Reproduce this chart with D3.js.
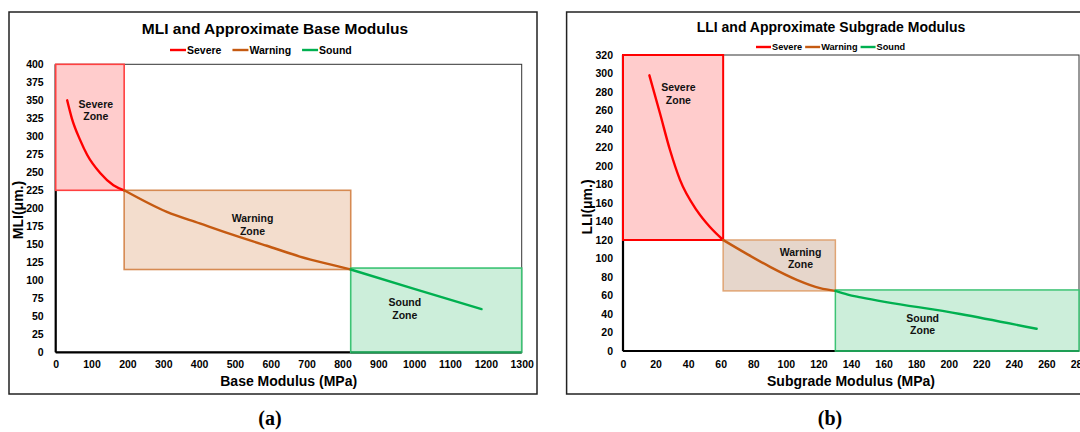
<!DOCTYPE html>
<html>
<head>
<meta charset="utf-8">
<script src="https://cdn.jsdelivr.net/npm/d3@7"></script>
<style>
  html, body { margin: 0; padding: 0; background: #fff; }
  svg { display: block; }
  text { font-family: "Liberation Sans", Arial, sans-serif; }
</style>
</head>
<body>
<svg id="chart" width="1080" height="432"></svg>
<script>
// ---- Panel (a): MLI vs base modulus ----
const baseSevereX  = [32, 45, 68, 88, 124, 161, 191];
const mliSevereY   = [350, 325, 295, 274, 249, 232, 225];
const baseWarningX = [191, 310, 402, 495, 589, 681, 774, 823];
const mliWarningY  = [225, 195, 179, 163, 148, 133, 121, 115];
const baseSoundX   = [823, 1000, 1188];
const mliSoundY    = [115, 88, 60];
const baseTicks = [0, 100, 200, 300, 400, 500, 600, 700, 800, 900, 1000, 1100, 1200, 1300];
const mliTicks  = [0, 25, 50, 75, 100, 125, 150, 175, 200, 225, 250, 275, 300, 325, 350, 375, 400];
// zone bounds: [xMin, xMax, yMin, yMax]
const mliSevereZone  = [0, 191, 225, 400];
const mliWarningZone = [191, 823, 115, 225];
const mliSoundZone   = [823, 1300, 0, 117];
// zone label anchors: [x, y]
const mliZoneLabelPos = [[112, 336], [549, 177], [974, 60]];

// ---- Panel (b): LLI vs subgrade modulus ----
const subSevereX  = [16.2, 22.7, 28.9, 35, 45.3, 53.4, 61.5];
const lliSevereY  = [298, 257, 217, 185, 152, 134, 120];
const subWarningX = [61.5, 76, 90.3, 106.7, 121, 130.4];
const lliWarningY = [120, 105, 91, 77, 68, 65];
const subSoundX   = [130.4, 138, 146, 207, 254];
const lliSoundY   = [65, 61, 58, 40, 24];
const subTicks = [0, 20, 40, 60, 80, 100, 120, 140, 160, 180, 200, 220, 240, 260, 280];
const lliTicks = [0, 20, 40, 60, 80, 100, 120, 140, 160, 180, 200, 220, 240, 260, 280, 300, 320];
const lliSevereZone  = [0, 61.5, 120, 320];
const lliWarningZone = [61.5, 130.4, 65, 120];
const lliSoundZone   = [130.4, 280, 0, 66];
const lliZoneLabelPos = [[34, 278], [109, 100], [184, 29]];

const seriesNames = ["Severe", "Warning", "Sound"];
const lineColors  = ["#FF0000", "#C55A11", "#00B050"];

const svg = d3.select("#chart");
svg.append("rect").attr("width", 1080).attr("height", 432).attr("fill", "#fff");

function drawPanel(cfg) {
  const g = svg.append("g");

  // outer chart frame
  g.append("rect")
    .attr("x", cfg.frame[0]).attr("y", cfg.frame[1])
    .attr("width", cfg.frame[2]).attr("height", cfg.frame[3])
    .attr("fill", "#fff").attr("stroke", "#222").attr("stroke-width", 1.5);

  const x = d3.scaleLinear().domain(cfg.xDomain).range([cfg.plot[0], cfg.plot[1]]);
  const y = d3.scaleLinear().domain(cfg.yDomain).range([cfg.plot[2], cfg.plot[3]]);

  // plot area outline
  g.append("rect")
    .attr("x", x(cfg.xDomain[0])).attr("y", y(cfg.yDomain[1]))
    .attr("width", x(cfg.xDomain[1]) - x(cfg.xDomain[0]))
    .attr("height", y(cfg.yDomain[0]) - y(cfg.yDomain[1]))
    .attr("fill", "none").attr("stroke", "#333").attr("stroke-width", 1);

  // main axis lines
  g.append("line")
    .attr("x1", x(cfg.xDomain[0])).attr("x2", x(cfg.xDomain[1]))
    .attr("y1", y(cfg.yDomain[0])).attr("y2", y(cfg.yDomain[0]))
    .attr("stroke", "#000").attr("stroke-width", 2.2);
  g.append("line")
    .attr("x1", x(cfg.xDomain[0])).attr("x2", x(cfg.xDomain[0]))
    .attr("y1", y(cfg.yDomain[0])).attr("y2", y(cfg.yDomain[1]))
    .attr("stroke", "#000").attr("stroke-width", 2.2);

  // tick labels
  const xAxis = g.append("g")
    .attr("transform", `translate(0,${y(cfg.yDomain[0])})`)
    .call(d3.axisBottom(x).tickValues(cfg.xTicks).tickSize(0).tickPadding(cfg.xPad).tickFormat(d3.format("d")));
  const yAxis = g.append("g")
    .attr("transform", `translate(${x(cfg.xDomain[0])},0)`)
    .call(d3.axisLeft(y).tickValues(cfg.yTicks).tickSize(0).tickPadding(cfg.yPad).tickFormat(d3.format("d")));
  [xAxis, yAxis].forEach(a => {
    a.select(".domain").remove();
    a.selectAll("text")
      .attr("font-family", "'Liberation Sans', Arial, sans-serif")
      .attr("font-size", 10.5).attr("font-weight", "bold").attr("fill", "#000");
  });

  // zones
  cfg.zones.forEach((z, i) => {
    g.append("rect")
      .attr("x", x(z[0])).attr("y", y(z[3]))
      .attr("width", x(z[1]) - x(z[0]))
      .attr("height", y(z[2]) - y(z[3]))
      .attr("fill", cfg.zoneFill[i])
      .attr("stroke", cfg.zoneStroke[i])
      .attr("stroke-width", cfg.zoneStrokeWidth[i]);
  });
  // the sound zone sits on the horizontal axis: its lower edge is drawn heavier
  const sz = cfg.zones[2];
  g.append("line")
    .attr("x1", x(sz[0])).attr("x2", x(sz[1]))
    .attr("y1", y(sz[2])).attr("y2", y(sz[2]))
    .attr("stroke", "#1E9E55").attr("stroke-width", 2.2);

  // series curves
  const line = d3.line().x(d => x(d[0])).y(d => y(d[1])).curve(d3.curveMonotoneX);
  cfg.series.forEach((s, i) => {
    const pts = s[0].map((v, k) => [v, s[1][k]]);
    g.append("path")
      .attr("d", line(pts))
      .attr("fill", "none")
      .attr("stroke", lineColors[i])
      .attr("stroke-width", 2.4)
      .attr("stroke-linecap", "round");
  });

  // zone labels
  cfg.zoneLabelPos.forEach((p, i) => {
    const t = g.append("text")
      .attr("x", x(p[0])).attr("y", y(p[1]))
      .attr("text-anchor", "middle")
      .attr("font-size", 10.5).attr("font-weight", "bold").attr("fill", "#111");
    t.append("tspan").attr("x", x(p[0])).attr("dy", "-0.25em").text(seriesNames[i]);
    t.append("tspan").attr("x", x(p[0])).attr("dy", "1.2em").text("Zone");
  });

  // title
  g.append("text")
    .attr("x", cfg.titlePos[0]).attr("y", cfg.titlePos[1])
    .attr("text-anchor", "middle").attr("dominant-baseline", "central")
    .attr("font-size", cfg.titleSize).attr("font-weight", "bold").attr("fill", "#000")
    .text(cfg.title);

  // legend
  let lx = cfg.legend.x;
  const ly = cfg.legend.y;
  seriesNames.forEach((name, i) => {
    g.append("line")
      .attr("x1", lx).attr("x2", lx + cfg.legend.lineLen)
      .attr("y1", ly).attr("y2", ly)
      .attr("stroke", lineColors[i]).attr("stroke-width", 2.4);
    lx += cfg.legend.lineLen + 1;
    const t = g.append("text")
      .attr("x", lx).attr("y", ly)
      .attr("dominant-baseline", "central")
      .attr("font-size", cfg.legend.size).attr("font-weight", "bold").attr("fill", "#000")
      .text(name);
    lx += t.node().getComputedTextLength() + cfg.legend.gap;
  });

  // axis titles
  g.append("text")
    .attr("x", (cfg.plot[0] + cfg.plot[1]) / 2).attr("y", cfg.xTitleY)
    .attr("text-anchor", "middle").attr("dominant-baseline", "central")
    .attr("font-size", 14).attr("font-weight", "bold").attr("fill", "#000")
    .text(cfg.xTitle);
  g.append("text")
    .attr("transform", `translate(${cfg.yTitlePos[0]},${cfg.yTitlePos[1]}) rotate(-90)`)
    .attr("text-anchor", "middle").attr("dominant-baseline", "central")
    .attr("font-size", 14).attr("font-weight", "bold").attr("fill", "#000")
    .text(cfg.yTitle);

  // panel caption
  g.append("text")
    .attr("x", cfg.captionPos[0]).attr("y", cfg.captionPos[1])
    .attr("text-anchor", "middle").attr("dominant-baseline", "central")
    .style("font-family", "'Liberation Serif', 'Times New Roman', serif")
    .attr("font-size", 20).attr("font-weight", "bold").attr("fill", "#000")
    .text(cfg.caption);
}

drawPanel({
  frame: [9, 12, 528, 382],
  plot: [55.7, 521.7, 352.3, 64.3],
  xDomain: [0, 1300], yDomain: [0, 400],
  xTicks: baseTicks, yTicks: mliTicks,
  xPad: 8, yPad: 12,
  zones: [mliSevereZone, mliWarningZone, mliSoundZone],
  zoneFill: ["#FFCCCC", "#F3DDCD", "#CCEEDA"],
  zoneStroke: ["#FF4040", "#D68A52", "#3CC374"],
  zoneStrokeWidth: [1.6, 1.6, 1.6],
  series: [[baseSevereX, mliSevereY], [baseWarningX, mliWarningY], [baseSoundX, mliSoundY]],
  zoneLabelPos: mliZoneLabelPos,
  title: "MLI and Approximate Base Modulus", titlePos: [275, 28], titleSize: 15.5,
  legend: { x: 170, y: 50, lineLen: 16, gap: 11, size: 10.5 },
  xTitle: "Base Modulus (MPa)", xTitleY: 381,
  yTitle: "MLI(μm.)", yTitlePos: [18, 210],
  caption: "(a)", captionPos: [270, 418]
});

drawPanel({
  frame: [566.6, 12, 530, 382],
  plot: [623, 1079, 351, 55],
  xDomain: [0, 280], yDomain: [0, 320],
  xTicks: subTicks, yTicks: lliTicks,
  xPad: 9.5, yPad: 10,
  zones: [lliSevereZone, lliWarningZone, lliSoundZone],
  zoneFill: ["#FFCCCC", "#E6D6CB", "#CCEEDA"],
  zoneStroke: ["#FF0000", "#E0A474", "#3CC374"],
  zoneStrokeWidth: [2, 1.5, 1.5],
  series: [[subSevereX, lliSevereY], [subWarningX, lliWarningY], [subSoundX, lliSoundY]],
  zoneLabelPos: lliZoneLabelPos,
  title: "LLI and Approximate Subgrade Modulus", titlePos: [831, 27], titleSize: 14,
  legend: { x: 756, y: 47, lineLen: 15, gap: 3, size: 9.2 },
  xTitle: "Subgrade Modulus (MPa)", xTitleY: 381,
  yTitle: "LLI(μm.)", yTitlePos: [587, 207],
  caption: "(b)", captionPos: [830, 418]
});
</script>
</body>
</html>
